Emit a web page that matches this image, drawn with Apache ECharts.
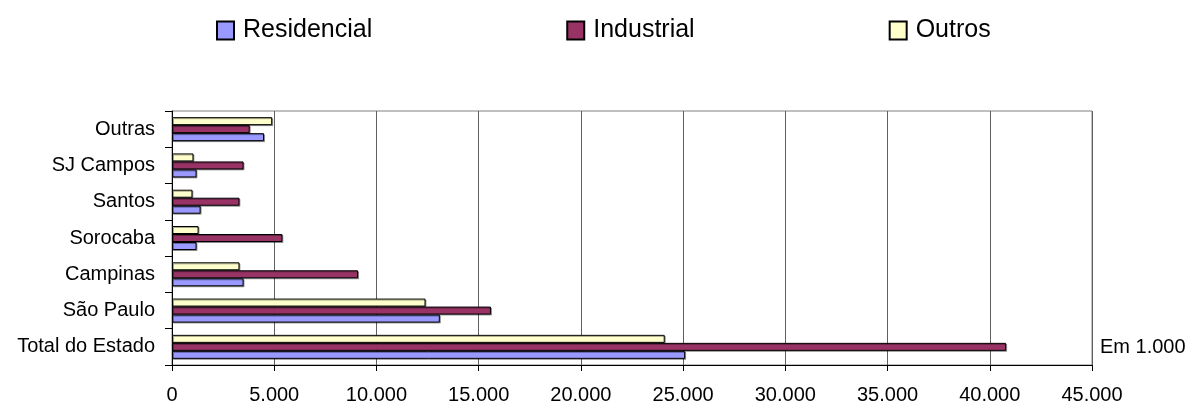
<!DOCTYPE html>
<html>
<head>
<meta charset="utf-8">
<script src="https://cdn.jsdelivr.net/npm/echarts@6/dist/echarts.min.js"></script>
<style>
  html, body { margin: 0; padding: 0; background: #fff; }
  #chart { width: 1189px; height: 405px; }
</style>
</head>
<body>
<div id="chart"></div>
<script>
// Consumo por região (em 1.000)
const regions = ['Total do Estado', 'São Paulo', 'Campinas', 'Sorocaba', 'Santos', 'SJ Campos', 'Outras'];
const residencial = [25100, 13100, 3500, 1200, 1400, 1200, 4500];
const industrial  = [40800, 15600, 9100, 5400, 3300, 3500, 3800];
const outros      = [24100, 12400, 3300, 1300, 1000, 1050, 4900];
const xTickLabels = ['0', '5.000', '10.000', '15.000', '20.000', '25.000', '30.000', '35.000', '40.000', '45.000'];
const unitNote = 'Em 1.000';

const FONT = 'Liberation Sans, Arial, sans-serif';
const TICK_STEP = 5000;

function barSeries(name, data, color) {
  return {
    name: name,
    type: 'bar',
    data: data,
    barWidth: 8,
    barGap: '0%',
    itemStyle: {
      color: color,
      borderColor: '#000',
      borderWidth: 1,
      shadowColor: 'rgba(0,0,0,0.35)',
      shadowOffsetX: 1,
      shadowOffsetY: 1
    }
  };
}

const chart = echarts.init(document.getElementById('chart'), null, { renderer: 'canvas' });
chart.setOption({
  animation: false,
  backgroundColor: '#fff',
  legend: {
    left: 216,
    top: 18,
    padding: 0,
    itemWidth: 17,
    itemHeight: 18,
    itemGap: 194,
    icon: 'rect',
    textStyle: { fontFamily: FONT, fontSize: 25, color: '#000', padding: [0, 0, 0, 4] },
    data: ['Residencial', 'Industrial', 'Outros']
  },
  grid: {
    left: 172,
    right: 97,
    top: 111,
    bottom: 38,
    show: true,
    borderColor: '#808080',
    borderWidth: 1
  },
  xAxis: {
    type: 'value',
    min: 0,
    max: 45000,
    interval: TICK_STEP,
    axisLine: { show: true, lineStyle: { color: '#000', width: 1 } },
    axisTick: { show: true, length: 6, lineStyle: { color: '#000' } },
    splitLine: { show: true, lineStyle: { color: '#606060', width: 1 } },
    axisLabel: {
      margin: 20,
      fontFamily: FONT,
      fontSize: 20,
      color: '#000',
      formatter: function (v) { return xTickLabels[Math.round(v / TICK_STEP)]; }
    }
  },
  yAxis: {
    type: 'category',
    data: regions,
    axisLine: { show: true, lineStyle: { color: '#000', width: 1 } },
    axisTick: { show: true, length: 7, lineStyle: { color: '#000' } },
    axisLabel: { margin: 17, fontFamily: FONT, fontSize: 20, color: '#000' }
  },
  graphic: [{
    type: 'text',
    left: 1100,
    top: 337,
    style: { text: unitNote, fontFamily: FONT, fontSize: 20, fill: '#000' }
  }],
  // Within each region the bars read Outros (top), Industrial, Residencial (bottom)
  series: [
    barSeries('Outros', outros, '#FFFFCC'),
    barSeries('Industrial', industrial, '#993366'),
    barSeries('Residencial', residencial, '#9999FF')
  ]
});
</script>
</body>
</html>
